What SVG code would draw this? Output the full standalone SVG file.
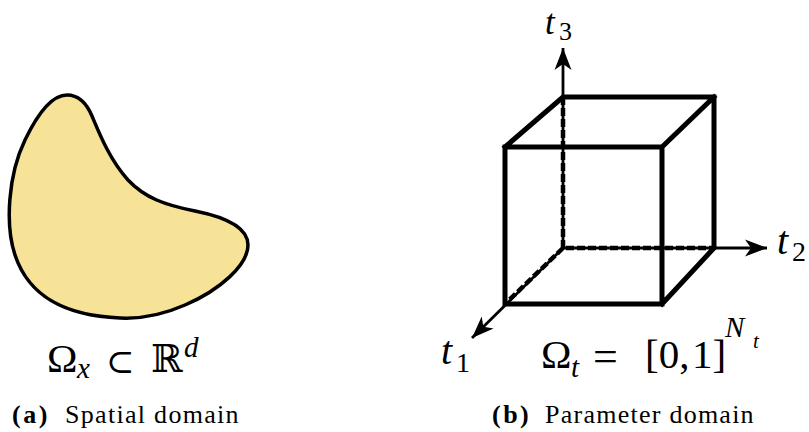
<svg xmlns="http://www.w3.org/2000/svg" width="809" height="432" viewBox="0 0 809 432">
<defs>
<marker id="arr" markerUnits="userSpaceOnUse" markerWidth="26" markerHeight="20" viewBox="-23 -10 26 20" refX="0" refY="0" orient="auto">
<path d="M0,0 L-22,-8.5 L-16,0 L-22,8.5 Z" fill="#000"/>
</marker>
</defs>
<g id="spatial-domain">
<path d="M67,95 C78,95 86,102 92,116 C100,135 110,160 128,180 C145,198 165,205 195,211 C225,217 248,227 248,245 C248,265 220,290 185,305 C160,316 140,319 120,318 C70,316 30,300 15,255 C5,225 8,175 25,140 C38,113 52,95 67,95 Z" fill="#F7E397" stroke="#000" stroke-width="3.5"/>
<text font-family="Liberation Serif, serif" font-size="41" fill="#000"><tspan x="47" y="372">Ω</tspan><tspan font-style="italic" x="77" y="378" font-size="29">x</tspan><tspan font-family="DejaVu Serif, serif" x="106" y="373" font-size="34">⊂</tspan><tspan font-family="DejaVu Serif, serif" x="151" y="372" font-size="38">ℝ</tspan><tspan font-style="italic" x="184" y="357" font-size="29">d</tspan></text>
</g>
<g id="parameter-domain">
<g id="axes" fill="none" stroke="#000" stroke-width="2.8">
<line x1="563" y1="248" x2="563" y2="48" marker-end="url(#arr)"/>
<line x1="563" y1="248" x2="767" y2="248" marker-end="url(#arr)"/>
<line x1="563" y1="248" x2="472" y2="338" marker-end="url(#arr)"/>
</g>
<g id="cube" fill="none" stroke="#000">
<path d="M563,97 V248 H714 M563,248 L505,304" stroke-width="4.5" stroke-dasharray="8 3"/>
<path d="M505,147 H662 V304 H505 Z M505,147 L563,97 H714 V248 L662,304 M662,147 L714,97" stroke-width="5" stroke-linejoin="miter" stroke-linecap="square"/>
</g>
<text font-family="Liberation Serif, serif" font-size="35" fill="#000"><tspan font-style="italic" x="545" y="34">t</tspan><tspan x="559" y="40" font-size="26">3</tspan></text>
<text font-family="Liberation Serif, serif" font-size="40" fill="#000"><tspan font-style="italic" x="777" y="254">t</tspan><tspan x="792" y="261" font-size="28">2</tspan></text>
<text font-family="Liberation Serif, serif" font-size="40" fill="#000"><tspan font-style="italic" x="441" y="364">t</tspan><tspan x="456" y="372" font-size="28">1</tspan></text>
<text font-family="Liberation Serif, serif" font-size="41" fill="#000"><tspan x="541" y="368">Ω</tspan><tspan font-style="italic" x="571" y="377" font-size="29">t</tspan><tspan x="593" y="371" font-size="44">=</tspan><tspan x="645" y="368">[0,</tspan><tspan x="692" y="368">1]</tspan><tspan font-style="italic" x="725" y="337" font-size="29">N</tspan><tspan font-style="italic" x="753" y="348" font-size="21">t</tspan></text>
</g>
<g id="captions">
<text font-family="Liberation Serif, serif" font-size="26" y="423" fill="#000"><tspan x="12" font-weight="bold" letter-spacing="2.5">(a)</tspan><tspan x="65" letter-spacing="1.3">Spatial domain</tspan></text>
<text font-family="Liberation Serif, serif" font-size="26" y="423" fill="#000"><tspan x="492" font-weight="bold" letter-spacing="2.5">(b)</tspan><tspan x="545" letter-spacing="1.25">Parameter domain</tspan></text>
</g>
</svg>
